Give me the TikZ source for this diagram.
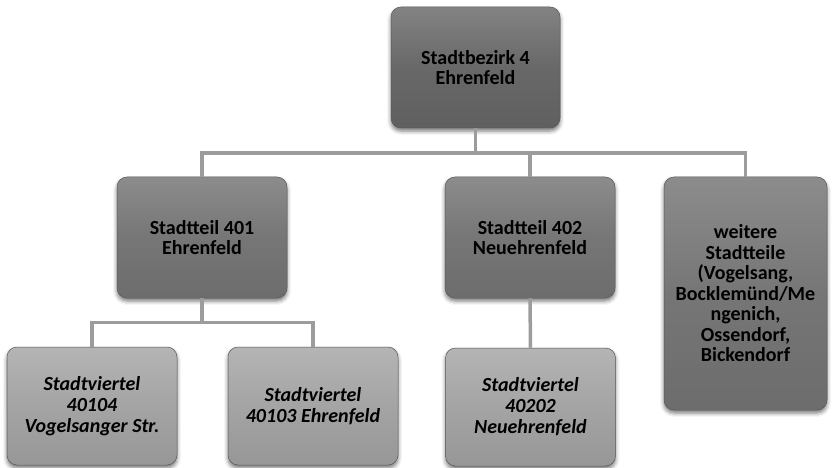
\documentclass[tikz,border=0pt]{standalone}
\usepackage{fontspec}
\setmainfont{Carlito}
\usetikzlibrary{shadows.blur}
\definecolor{lvlone}{HTML}{686868}
\definecolor{lvltwo}{HTML}{767676}
\definecolor{lvlthree}{HTML}{A4A4A4}
\definecolor{linkgray}{HTML}{9C9C9C}
\tikzset{
  box/.style={rounded corners=10pt, draw=black!65, line width=0.5pt,
    align=center, inner sep=2pt, font=\fontsize{20}{19.5}\selectfont\bfseries,
    blur shadow={shadow xshift=0pt, shadow yshift=-3pt, shadow blur radius=4pt, shadow opacity=55}},
  boxone/.style={box, top color=lvlone!82!white, bottom color=lvlone!92!black, middle color=lvlone,
    minimum width=169pt, minimum height=121pt},
  boxtwo/.style={box, top color=lvltwo!84!white, bottom color=lvltwo!92!black, middle color=lvltwo,
    minimum width=170pt, minimum height=121pt},
  boxthree/.style={box, top color=lvlthree!82!white, bottom color=lvlthree!92!black, middle color=lvlthree,
    minimum width=170pt, minimum height=118pt, font=\fontsize{20}{21}\selectfont\bfseries\itshape},
  conn/.style={draw=linkgray, line width=3.5pt},
}
\begin{document}
\begin{tikzpicture}[x=1pt, y=1pt]
\useasboundingbox (0,0) rectangle (833,-468);
% organisational boxes
\node[boxone] (top) at (475.5,-67.5) {Stadtbezirk 4\\Ehrenfeld};
\node[boxtwo] (t401) at (202,-237.5) {Stadtteil 401\\Ehrenfeld};
\node[boxtwo] (t402) at (530,-237.5) {Stadtteil 402\\Neuehrenfeld};
\node[boxtwo, minimum width=163pt, minimum height=233pt, font=\fontsize{20}{20.5}\selectfont\bfseries]
  (more) at (745.5,-293.5)
  {weitere\\Stadtteile\\(Vogelsang,\\Bocklemünd/Me\\ngenich,\\Ossendorf,\\Bickendorf};
\node[boxthree] (v104) at (92,-406) {Stadtviertel\\40104\\Vogelsanger Str.};
\node[boxthree] (v103) at (313,-406) {Stadtviertel\\40103 Ehrenfeld};
\node[boxthree] (v202) at (530.5,-407) {Stadtviertel\\40202\\Neuehrenfeld};
% tree connectors
\coordinate (barA) at ($(top.south)+(0,-25)$);
\draw[conn] (top.south) -- (barA) -| (t401.north);
\draw[conn] (barA) -| (t402.north);
\draw[conn] (barA) -| (more.north);
\coordinate (barB) at ($(t401.south)+(0,-24)$);
\draw[conn] (t401.south) -- (barB) -| (v104.north);
\draw[conn] (barB) -| (v103.north);
\draw[conn] (t402.south) -- (v202.north);
\end{tikzpicture}
\end{document}
